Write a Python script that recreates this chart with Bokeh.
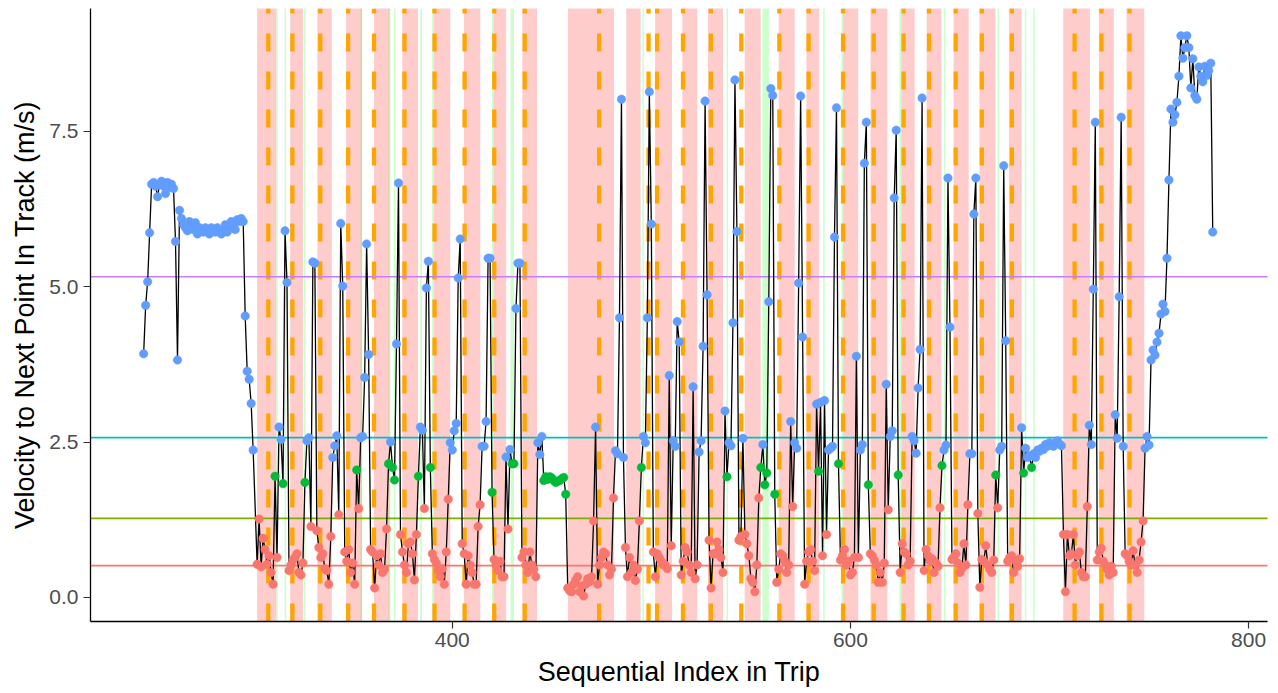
import numpy as np
from bokeh.plotting import figure
from bokeh.models import ColumnDataSource, Range1d, FixedTicker, NumeralTickFormatter
from bokeh.embed import file_html
from bokeh.resources import INLINE

# ---------------- data ----------------
# velocity segments: each starts at the given sequential index, consecutive indices
seg_starts = [245, 302, 318, 332, 346, 359, 374, 390, 405, 421, 435, 458, 487, 501,
              515, 529, 544, 563, 577, 596, 610, 625, 637, 651, 665, 679, 707, 724, 738]

vel_00 = [3.92, 4.70, 5.08, 5.87, 6.65, 6.68, 6.62, 6.45, 6.65, 6.70, 6.62, 6.50, 6.68, 6.60,
          6.65, 6.58, 5.73, 3.82, 6.23, 6.10, 6.00, 5.95, 5.90, 6.05, 6.00, 5.92, 6.03, 5.85,
          5.95, 5.90, 5.88, 5.95, 5.92, 5.85, 5.95, 5.90, 5.88, 5.95, 5.90, 5.85, 5.92, 6.00,
          5.88, 5.95, 6.05, 6.00, 5.92, 6.08, 6.05, 6.10, 6.05, 4.53, 3.64, 3.51, 3.12, 2.37]
vel_01 = [0.53, 1.26, 0.49, 0.95, 0.77, 0.53, 0.67, 0.40, 0.21, 1.95, 0.64, 2.74, 2.54, 1.83, 5.90, 5.07]
vel_02 = [0.43, 0.52, 0.60, 0.64, 0.70, 0.40, 0.36, 0.55, 1.85, 2.52, 2.57, 1.14, 5.40, 5.38]
vel_03 = [1.07, 0.80, 0.64, 0.70, 0.46, 0.43, 0.21, 0.98, 2.25, 2.44, 2.60, 1.33, 6.02, 5.01]
vel_04 = [0.73, 0.58, 0.77, 0.40, 0.55, 0.21, 2.05, 1.43, 2.57, 2.59, 3.54, 5.69, 3.91]
vel_05 = [0.77, 0.73, 0.15, 0.67, 0.52, 0.70, 0.40, 0.45, 1.10, 2.15, 2.50, 2.09, 1.89, 4.08, 6.67]
vel_06 = [1.01, 0.73, 0.52, 0.40, 0.86, 0.89, 0.70, 0.28, 1.01, 1.95, 2.74, 2.69, 1.43, 4.98, 5.41, 2.09]
vel_07 = [0.70, 0.61, 0.55, 0.43, 0.33, 0.46, 0.21, 0.73, 1.58, 2.49, 2.37, 2.68, 2.80, 5.14, 5.77]
vel_08 = [0.86, 0.70, 0.21, 0.67, 0.52, 0.40, 0.21, 0.21, 1.14, 1.49, 2.43, 2.43, 2.83, 5.46, 5.46, 1.69]
vel_09 = [0.61, 0.52, 0.43, 0.58, 0.33, 0.33, 2.26, 1.10, 2.38, 2.15, 2.15, 4.65, 5.38, 5.38]
vel_10 = [0.64, 0.73, 0.52, 0.40, 0.73, 0.52, 0.45, 0.33, 2.49, 2.30, 2.59, 1.88, 1.94, 1.90,
          1.94, 1.92, 1.88, 1.85, 1.87, 1.88, 1.91, 1.93, 1.66]
vel_11 = [0.15, 0.10, 0.09, 0.21, 0.28, 0.33, 0.09, 0.18, 0.02, 0.21, 0.30, 0.25, 0.33, 1.23,
          2.74, 0.21, 0.52, 0.64, 0.73, 0.70, 0.52, 0.36, 0.45, 1.60, 2.36, 2.31, 4.50, 8.02, 2.25]
vel_12 = [0.80, 0.33, 0.64, 0.40, 0.52, 0.27, 0.45, 1.23, 2.09, 2.59, 2.49, 4.50, 8.14, 6.01]
vel_13 = [0.73, 0.33, 0.70, 0.64, 0.58, 0.52, 0.52, 0.46, 3.57, 0.83, 2.52, 2.43, 4.44, 4.11]
vel_14 = [0.36, 0.58, 0.80, 0.73, 0.52, 0.40, 3.39, 0.30, 0.52, 2.34, 2.52, 4.04, 7.99, 4.87]
vel_15 = [0.92, 0.15, 0.70, 0.70, 0.89, 0.77, 0.64, 0.40, 3.00, 1.94, 2.49, 2.44, 4.42, 8.33, 5.89]
vel_16 = [0.92, 0.98, 2.56, 1.01, 0.86, 0.67, 0.30, 0.24, 0.09, 0.52, 1.60, 2.09, 2.46, 1.81,
          2.00, 4.76, 8.19, 8.08, 1.66]
vel_17 = [0.24, 0.45, 0.70, 0.67, 0.58, 0.40, 0.52, 2.83, 1.46, 2.49, 2.40, 5.06, 8.07, 4.19]
vel_18 = [0.21, 0.58, 0.73, 0.77, 0.58, 0.43, 3.11, 2.03, 3.14, 0.67, 3.17, 1.01, 2.37, 2.40,
          2.43, 5.80, 7.88, 2.15, 0.60]
vel_19 = [0.67, 0.77, 0.52, 0.58, 0.36, 0.40, 0.64, 3.88, 0.64, 2.37, 2.46, 6.99, 7.65, 1.81]
vel_20 = [0.70, 0.67, 0.60, 0.52, 0.24, 0.40, 0.24, 0.55, 3.43, 1.41, 2.59, 2.68, 6.43, 7.52, 1.97]
vel_21 = [0.40, 0.86, 0.73, 0.70, 0.52, 0.58, 2.59, 2.52, 2.32, 3.37, 3.99, 8.04]
vel_22 = [0.43, 0.77, 0.67, 0.58, 0.62, 0.40, 0.55, 0.50, 1.44, 2.12, 2.37, 2.45, 6.75, 4.35]
vel_23 = [0.61, 0.65, 0.70, 0.55, 0.40, 0.46, 0.86, 0.52, 1.49, 2.31, 2.31, 6.17, 6.75, 1.35]
vel_24 = [0.16, 0.61, 0.58, 0.83, 0.52, 0.45, 0.40, 0.60, 1.97, 1.44, 2.37, 2.43, 6.95, 4.13]
vel_25 = [0.58, 0.64, 0.67, 0.40, 0.58, 0.50, 0.62, 2.73, 2.00, 2.40, 2.25, 2.28, 2.09, 2.31,
          2.25, 2.37, 2.35, 2.40, 2.38, 2.46, 2.43, 2.49, 2.46, 2.43, 2.49, 2.52, 2.47, 2.44]
vel_26 = [1.01, 0.09, 1.01, 0.67, 0.70, 1.01, 0.52, 0.67, 0.73, 0.40, 0.33, 0.33, 1.46, 2.77,
          2.46, 4.96, 7.65]
vel_27 = [0.60, 0.73, 0.79, 0.58, 0.52, 0.45, 0.36, 0.50, 0.40, 2.94, 2.56, 4.84, 7.73, 2.43]
vel_28 = [0.70, 0.67, 0.58, 0.52, 0.75, 0.52, 0.40, 0.60, 0.89, 1.23, 2.40, 2.59, 2.45, 3.82,
          3.98, 3.90, 4.11, 4.25, 4.56, 4.72, 4.60, 5.46, 6.72, 7.86, 7.65, 7.77, 7.97, 8.39,
          9.04, 8.68, 8.85, 9.04, 8.85, 8.20, 8.67, 8.08, 8.02, 8.54, 8.39, 8.30, 8.55, 8.40,
          8.48, 8.60, 5.88]

vel_segments = [vel_00, vel_01, vel_02, vel_03, vel_04, vel_05, vel_06, vel_07, vel_08, vel_09,
                vel_10, vel_11, vel_12, vel_13, vel_14, vel_15, vel_16, vel_17, vel_18, vel_19,
                vel_20, vel_21, vel_22, vel_23, vel_24, vel_25, vel_26, vel_27, vel_28]

# stop periods (pink bands)
stop_left = [302.0, 318.6, 332.2, 346.7, 360.7, 374.9, 390.8, 405.9, 420.8, 435.2, 458.1, 487.4,
             501.9, 515.6, 528.5, 546.9, 564.0, 577.9, 596.3, 610.1, 625.6, 638.3, 651.8, 664.8,
             679.6, 706.9, 724.8, 738.7]
stop_right = [311.6, 325.0, 339.5, 354.6, 368.5, 382.8, 399.0, 414.1, 427.1, 442.6, 481.3, 494.6,
              510.4, 523.1, 536.0, 554.9, 572.0, 584.3, 603.9, 618.6, 632.3, 645.7, 659.4, 672.9,
              686.0, 720.3, 732.3, 747.6]
# slow periods (light green bands)
slow_left = [311.6, 315.8, 325.5, 353.9, 368.0, 370.7, 383.9, 389.9, 420.0, 429.3, 495.5, 537.7,
             555.8, 586.3, 595.5, 624.6, 646.9, 673.9, 687.6, 691.8]
slow_right = [312.4, 316.6, 326.3, 354.8, 369.0, 371.5, 384.8, 390.8, 420.8, 431.0, 496.3, 538.5,
              559.0, 587.1, 596.3, 625.6, 647.7, 674.7, 688.4, 692.6]
# detected stop markers (orange dashed lines)
stop_marks = [307.6, 319.7, 333.7, 347.7, 360.7, 376.0, 391.1, 406.2, 421.1, 436.4, 473.8, 498.6,
              502.9, 515.9, 529.9, 545.2, 564.3, 579.0, 596.3, 611.7, 626.7, 639.5, 652.9, 666.0,
              681.1, 712.6, 726.1, 740.2]
# cluster thresholds (horizontal lines)
thresholds = [0.51, 1.27, 2.57, 5.16]
threshold_colors = ["#F8766D", "#7CAE00", "#00BFC4", "#C77CFF"]

x_ticks = [400, 600, 800]
y_ticks = [0, 2.5, 5, 7.5]

# ---------------- build ----------------
xs, vs = [], []
for s, seg in zip(seg_starts, vel_segments):
    for k, v in enumerate(seg):
        xs.append(s + k)
        vs.append(v)
order = np.argsort(xs, kind="stable")
xs = list(np.array(xs)[order])
vs = list(np.array(vs)[order])

def cls_color(v):
    if v < 1.63:
        return "#F8766D"
    if v < 2.2:
        return "#00BA38"
    return "#619CFF"

cols = [cls_color(v) for v in vs]

YMIN, YMAX = -0.39, 9.48
p = figure(frame_width=1177, frame_height=613, output_backend="svg", toolbar_location=None,
           x_range=Range1d(218.3, 809.5), y_range=Range1d(YMIN, YMAX),
           min_border_left=90, min_border_right=3, min_border_top=8, min_border_bottom=60)
p.background_fill_color = "white"
p.border_fill_color = "white"
p.outline_line_color = None
p.xgrid.visible = False
p.ygrid.visible = False

p.quad(left=stop_left, right=stop_right, bottom=-50, top=50,
       fill_color="#FF0000", fill_alpha=0.2, line_color=None)
p.quad(left=slow_left, right=slow_right, bottom=-50, top=50,
       fill_color="#00FF00", fill_alpha=0.2, line_color=None)
p.segment(x0=stop_marks, y0=[YMIN] * len(stop_marks), x1=stop_marks, y1=[YMAX] * len(stop_marks),
          line_color="#FFA500", line_width=4.3, line_dash="18 20")
for t, c in zip(thresholds, threshold_colors):
    p.line(x=[-1000, 2000], y=[t, t], line_color=c, line_width=1.6)

src = ColumnDataSource(dict(x=xs, v=vs, c=cols))
p.line("x", "v", source=src, line_color="black", line_width=1.3)
p.scatter("x", "v", source=src, size=8.5, fill_color="c", line_color="c", line_width=0.5)

for ax in (p.xaxis[0], p.yaxis[0]):
    ax.axis_line_color = "black"
    ax.axis_line_width = 1.3
    ax.major_tick_line_color = "#333333"
    ax.major_tick_line_width = 1.2
    ax.major_tick_out = 7
    ax.major_tick_in = 0
    ax.minor_tick_line_color = None
    ax.major_label_text_font = "Liberation Sans"
    ax.major_label_text_font_size = "21px"
    ax.major_label_text_color = "#4D4D4D"
    ax.axis_label_text_font = "Liberation Sans"
    ax.axis_label_text_font_size = "27px"
    ax.axis_label_text_font_style = "normal"
    ax.axis_label_text_color = "black"

p.xaxis.ticker = FixedTicker(ticks=x_ticks)
p.yaxis.ticker = FixedTicker(ticks=y_ticks)
p.yaxis.formatter = NumeralTickFormatter(format="0.0")
p.xaxis.axis_label = "Sequential Index in Trip"
p.yaxis.axis_label = "Velocity to Next Point In Track (m/s)"
p.xaxis.major_label_standoff = 4
p.yaxis.major_label_standoff = 5
p.xaxis.axis_label_standoff = 7
p.yaxis.axis_label_standoff = 6

open("out.html", "w").write(file_html(p, INLINE))
